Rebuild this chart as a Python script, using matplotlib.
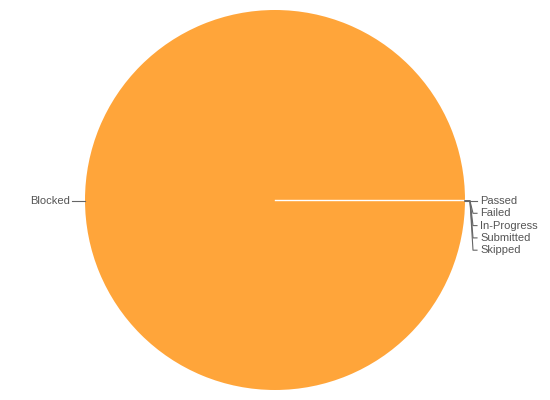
import matplotlib
matplotlib.use('Agg')
import matplotlib.pyplot as plt

labels = ['Passed', 'Failed', 'In-Progress', 'Submitted', 'Skipped', 'Blocked']
values = [0, 0, 0, 0, 0, 100]

plt.rcParams['font.family'] = ['Liberation Sans', 'DejaVu Sans']

fig = plt.figure(figsize=(5.5, 4), dpi=100)
# pie centre at (275, 200) px, radius 190 px
ax = fig.add_axes([85 / 550, 10 / 400, 380 / 550, 380 / 400])

wedges, _ = ax.pie(values, startangle=0, colors=['#FFA53A'] * len(values),
                   wedgeprops={'edgecolor': 'none'}, radius=1)
# slice border where the empty slices sit
ax.plot([0, 1], [0, 0], color='white', lw=1)
ax.set_xlim(-1, 1)
ax.set_ylim(-1, 1)
ax.set_aspect('equal')
ax.axis('off')

px = 1 / 190
line_col = '#666666'
text_col = '#555555'
fs = 8

# zero slices stacked at the right side
zero_labels = [l for l, v in zip(labels, values) if v == 0]
for i, lab in enumerate(zero_labels):
    y = -(1 + i * 12.3) * px
    xs = [1.0, 1 + 5 * px, 1 + 8 * px, 1 + 12 * px]
    ys = [-1 * px, -1 * px, y, y]
    if i == 0:
        xs = [1.0, 1 + 12 * px]
        ys = [y, y]
    ax.plot(xs, ys, color=line_col, lw=0.8, clip_on=False)
    ax.text(1 + 15 * px, y, lab, ha='left', va='center', fontsize=fs,
            color=text_col, clip_on=False)

# Blocked label on the left
ax.plot([-1.0, -1 - 13 * px], [-1 * px, -1 * px], color=line_col, lw=0.8,
        clip_on=False)
ax.text(-1 - 15 * px, -1 * px, labels[-1], ha='right', va='center',
        fontsize=fs, color=text_col, clip_on=False)

fig.savefig('out.png', dpi=100)
